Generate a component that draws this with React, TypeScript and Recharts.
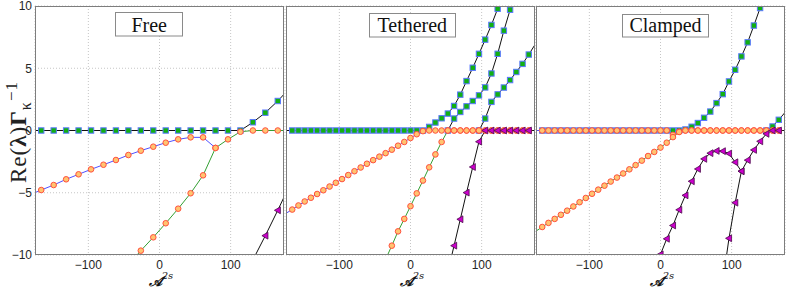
import React from 'react';
import { LineChart, Line, XAxis, YAxis, CartesianGrid } from 'recharts';

// x positions of the "Free" panel samples
const FREE_X = [-183.75, -166.25, -148.75, -131.25, -113.75, -96.25, -78.75, -61.25, -43.75, -26.25, -8.75,
  8.75, 26.25, 43.75, 61.25, 78.75, 96.25, 113.75, 131.25, 148.75, 166.25, 183.75];

const freeSquares = [0, 0, 0, 0, 0, 0, 0, 0, 0, 0, 0, 0, 0, 0, 0, 0, 0, 0, 0.66, 1.43, 2.37, 3.45];
const freeBlue = [-5.2, -4.78, -4.38, -3.92, -3.52, -3.12, -2.75, -2.37, -1.97, -1.62, -1.3, -0.98, -0.71, -0.55, -0.55, -1.4,
  null, null, null, null, null, null];
const freeGreen = [null, null, null, null, null, null, null, null, -10.8, -9.65, -8.58, -7.45, -6.28, -5.04, -3.6, -1.4,
  -0.71, -0.1, 0, 0, 0, 0];
const freeTri = [null, null, null, null, null, null, null, null, null, null, null, null, null, null, null, null, null, null,
  -10.4, -8.45, -6.41, -4.3];

// x positions of the "Tethered" and "Clamped" samples
const GRID_X = [-175, -166.25, -157.5, -148.75, -140, -131.25, -122.5, -113.75, -105, -96.25, -87.5, -78.75, -70, -61.25,
  -52.5, -43.75, -35, -26.25, -17.5, -8.75, 0, 8.75, 17.5, 26.25, 35, 43.75, 52.5, 61.25, 70, 78.75, 87.5, 96.25, 105,
  113.75, 122.5, 131.25, 140, 148.75, 157.5, 166.25, 175];

const tethSq1 = [0, 0, 0, 0, 0, 0, 0, 0, 0, 0, 0, 0, 0, 0, 0, 0, 0, 0, 0, 0, 0, 0, 0,
  0.29, 0.64, 0.98, 1.36, 1.97, 2.88, 3.97, 5.04, 6.16, 7.3, 8.48, 9.78, 11.1, null, null, null, null, null];
const tethSq2 = [null, null, null, null, null, null, null, null, null, null, null, null, null, null, null, null, null, null,
  null, null, null, null, null, null, null, null,
  0, 0.96, 1.49, 1.94, 2.37, 2.82, 3.46, 4.58, 6.16, 8.02, 9.7, 11.4, null, null, null];
const tethSq3 = [null, null, null, null, null, null, null, null, null, null, null, null, null, null, null, null, null, null,
  null, null, null, null, null, null, null, null, null, null, null, null, null,
  0, 0.96, 2.3, 2.9, 3.45, 4.05, 4.7, 5.35, 6.1, 6.9];
const tethBlue = [-6.65, -6.35, -6.02, -5.7, -5.4, -5.1, -4.8, -4.5, -4.2, -3.9, -3.58, -3.27, -2.97, -2.67, -2.38, -2.1,
  -1.82, -1.54, -1.22, -0.92, -0.6, -0.3, -0.05, 0, 0, 0, 0, 0, 0, 0, 0, 0, 0, 0, 0, 0, 0, 0, 0, 0, 0];
const tethGreen = [null, null, null, null, null, null, null, null, null, null, null, null, null, null, null, null,
  -10.35, -9.25, -8.1, -7.1, -6.08, -5.05, -4.02, -2.96, -1.92, -0.92, 0, 0, 0, 0, 0, 0, 0, 0, 0, 0, 0, 0, 0, 0, 0];
const tethTri = [null, null, null, null, null, null, null, null, null, null, null, null, null, null, null, null, null, null,
  null, null, null, null, null, null, null, null,
  -11.35, -9.25, -7.13, -4.99, -2.93, -0.9, 0, 0, 0, 0, 0, 0, 0, 0, 0];

const clampSq1 = [0, 0, 0, 0, 0, 0, 0, 0, 0, 0, 0, 0, 0, 0, 0, 0, 0, 0, 0, 0, 0, 0, 0, 0,
  0.08, 0.3, 0.6, 1.02, 1.52, 2.2, 2.92, 3.94, 4.88, 5.95, 7.08, 8.43, 9.84, 11.3, null, null, null];
const clampSq2 = [null, null, null, null, null, null, null, null, null, null, null, null, null, null, null, null, null, null,
  null, null, null, null, null, null, null, null, null, null, null, null, null, null, null, null, null, null, null,
  0, 0.32, 0.86, 1.45];
const clampBlue = [0, 0, 0, 0, 0, 0, 0, 0, 0, 0, 0, 0, 0, 0, 0, 0, 0, 0, 0, 0, 0, 0,
  -0.35, -0.1, 0, 0, 0, 0, 0, 0, 0, 0, 0, 0, 0, 0, 0, 0, 0, 0, 0];
const clampGreen = [-8.08, -7.75, -7.42, -7.1, -6.77, -6.44, -6.1, -5.76, -5.42, -5.08, -4.75, -4.43, -4.1, -3.78, -3.45,
  -3.12, -2.78, -2.42, -2.05, -1.72, -1.37, -0.98, -0.53, -0.12, 0, 0, 0, 0, 0, 0, 0, 0, 0, 0, 0, 0, 0, 0, 0, 0, 0];
const clampTri1 = [null, null, null, null, null, null, null, null, null, null, null, null, null, null, null, null, null, null, null,
  -11.2, -9.95, -8.7, -7.63, -6.37, -5.21, -4.08, -3.09, -2.28, -1.82, -1.64, -1.66, -1.85, -2.55, -3.27, -2.38, -1.56,
  -0.87, -0.27, 0, 0, 0];
const clampTri2 = [null, null, null, null, null, null, null, null, null, null, null, null, null, null, null, null, null, null,
  null, null, null, null, null, null, null, null, null, null, null, null,
  -12.2, -8.66, -5.8, -3.27, null, null, null, null, null, null, null];

const PANEL_TITLES = ['Free', 'Tethered', 'Clamped'];
const X_TICKS = [-100, 0, 100];
const Y_TICKS = [-10, -5, 0, 5, 10];

type Pt = { x: number; y: number };
const pts = (xs: number[], ys: (number | null)[]): Pt[] =>
  xs.map((x, i) => ({ x, y: ys[i] as number })).filter((p) => p.y !== null && p.y !== undefined);

const visible = (p: any) => p && Math.abs(p.x) <= 172 && p.y >= -10.3 && p.y <= 10.3;

const SquareDot = (props: any) => {
  const { cx, cy, payload, index } = props;
  if (!visible(payload) || cx == null || cy == null) return <g key={`s${index}`} />;
  return (
    <rect key={`s${index}`} x={cx - 2.7} y={cy - 2.7} width={5.4} height={5.4}
      fill="#12b012" stroke="#5a78ff" strokeWidth={1} />
  );
};
const CircleDot = (props: any) => {
  const { cx, cy, payload, index } = props;
  if (!visible(payload) || cx == null || cy == null) return <g key={`c${index}`} />;
  return <circle key={`c${index}`} cx={cx} cy={cy} r={2.8} fill="#ffc470" stroke="#ff503f" strokeWidth={1} />;
};
const TriDot = (props: any) => {
  const { cx, cy, payload, index } = props;
  if (!visible(payload) || cx == null || cy == null) return <g key={`t${index}`} />;
  const d = `M${cx - 3.4},${cy} L${cx + 2.6},${cy - 3.4} L${cx + 2.6},${cy + 3.4} Z`;
  return <path key={`t${index}`} d={d} fill="#cc00cc" stroke="#4a0a4a" strokeWidth={0.8} />;
};

const BLACK = '#111111';
const BLUE = '#5050ff';
const GREEN = '#33a033';

type Series = { name: string; data: Pt[]; stroke: string; dot: any };

const PANELS: { left: number; showY: boolean; series: Series[] }[] = [
  {
    left: 0, showY: true, series: [
      { name: 'fsq', data: pts(FREE_X, freeSquares), stroke: BLACK, dot: SquareDot },
      { name: 'fbl', data: pts(FREE_X, freeBlue), stroke: BLUE, dot: CircleDot },
      { name: 'fgr', data: pts(FREE_X, freeGreen), stroke: GREEN, dot: CircleDot },
      { name: 'ftr', data: pts(FREE_X, freeTri), stroke: BLACK, dot: TriDot },
    ],
  },
  {
    left: 251, showY: false, series: [
      { name: 'tsq1', data: pts(GRID_X, tethSq1), stroke: BLACK, dot: SquareDot },
      { name: 'tsq2', data: pts(GRID_X, tethSq2), stroke: BLACK, dot: SquareDot },
      { name: 'tsq3', data: pts(GRID_X, tethSq3), stroke: BLACK, dot: SquareDot },
      { name: 'tbl', data: pts(GRID_X, tethBlue), stroke: BLUE, dot: CircleDot },
      { name: 'tgr', data: pts(GRID_X, tethGreen), stroke: GREEN, dot: CircleDot },
      { name: 'ttr', data: pts(GRID_X, tethTri), stroke: BLACK, dot: TriDot },
    ],
  },
  {
    left: 501, showY: false, series: [
      { name: 'csq1', data: pts(GRID_X, clampSq1), stroke: BLACK, dot: SquareDot },
      { name: 'csq2', data: pts(GRID_X, clampSq2), stroke: BLACK, dot: SquareDot },
      { name: 'cbl', data: pts(GRID_X, clampBlue), stroke: BLUE, dot: CircleDot },
      { name: 'cgr', data: pts(GRID_X, clampGreen), stroke: GREEN, dot: CircleDot },
      { name: 'ctr1', data: pts(GRID_X, clampTri1), stroke: BLACK, dot: TriDot },
      { name: 'ctr2', data: pts(GRID_X, clampTri2), stroke: BLACK, dot: TriDot },
    ],
  },
];

const fmt = (v: number) => String(v).replace('-', '\u2212');
const tickStyle = { fontSize: 12, fill: '#262626', fontFamily: 'Liberation Sans, Arial, sans-serif' };

const PLOT_LEFT_OFFSET = 35;
const PLOT_W = 249;

function Panel({ left, showY, series }: { left: number; showY: boolean; series: Series[] }) {
  return (
    <div style={{ position: 'absolute', left, top: 0 }}>
      <LineChart width={286} height={289} margin={{ top: 6, right: 2, bottom: 14, left: 0 }}>
        <CartesianGrid stroke="#c6c6c6" strokeDasharray="1 2" />
        <XAxis type="number" dataKey="x" domain={[-175, 175]} allowDataOverflow ticks={X_TICKS} interval={0}
          height={20} tickLine={false} axisLine={false} tickSize={0} tickMargin={5} tick={tickStyle}
          tickFormatter={fmt} />
        <YAxis type="number" dataKey="y" domain={[-10, 10]} allowDataOverflow ticks={Y_TICKS} interval={0}
          width={PLOT_LEFT_OFFSET} tickLine={false} axisLine={false} tickSize={0} tickMargin={3}
          tick={showY ? tickStyle : false} tickFormatter={fmt} />
        {series.map((s) => (
          <Line key={s.name} name={s.name} data={s.data} dataKey="y" type="linear" stroke={s.stroke}
            strokeWidth={1} dot={s.dot} activeDot={false} isAnimationActive={false} legendType="none" />
        ))}
      </LineChart>
    </div>
  );
}

const BOXES = [
  { x: 115.5, y: 12.5, w: 67, h: 23.5, cx: 149.2 },
  { x: 369.5, y: 13.5, w: 86, h: 23.5, cx: 412.3 },
  { x: 622.5, y: 14.5, w: 86, h: 22.5, cx: 665.5 },
];

export default function App() {
  return (
    <div style={{ position: 'absolute', left: 0, top: 0, width: 789, height: 289, background: '#fff', overflow: 'hidden' }}>
      {PANELS.map((p, i) => (
        <Panel key={i} left={p.left} showY={p.showY} series={p.series} />
      ))}
      <svg width={789} height={289} style={{ position: 'absolute', left: 0, top: 0, pointerEvents: 'none' }}>
        {PANELS.map((p, i) => {
          const x0 = p.left + PLOT_LEFT_OFFSET;
          return (
            <g key={`f${i}`}>
              <rect x={x0 + 0.5} y={6.5} width={PLOT_W - 1} height={248} fill="none" stroke="#7d7d7d" strokeWidth={1} />
              <text x={x0 + PLOT_W / 2 + 1.5} y={285.5} textAnchor="middle" fontFamily="DejaVu Serif, serif"
                fontSize={14} fontStyle="italic" fontWeight="bold" fill="#111">
                𝒜<tspan fontSize={10} dy={-7} fontWeight="normal">2s</tspan>
              </text>
            </g>
          );
        })}
        {BOXES.map((b, i) => (
          <g key={`b${i}`}>
            <rect x={b.x} y={b.y} width={b.w} height={b.h} fill="#fff" stroke="#8a8a8a" strokeWidth={1} />
            <text x={b.cx} y={31.5} textAnchor="middle" fontFamily="Liberation Serif, Times New Roman, serif"
              fontSize={20} fill="#111">{PANEL_TITLES[i]}</text>
          </g>
        ))}
        <text transform="translate(26,132) rotate(-90)" textAnchor="middle" letterSpacing={1}
          fontFamily="Liberation Serif, Times New Roman, serif" fontSize={23} fill="#222">
          Re(<tspan fontWeight="bold">λ</tspan>)<tspan fontWeight="bold">Γ</tspan>
          <tspan fontSize={16} dy={5}>κ</tspan><tspan fontSize={17} dy={-14}>−1</tspan>
        </text>
      </svg>
    </div>
  );
}
